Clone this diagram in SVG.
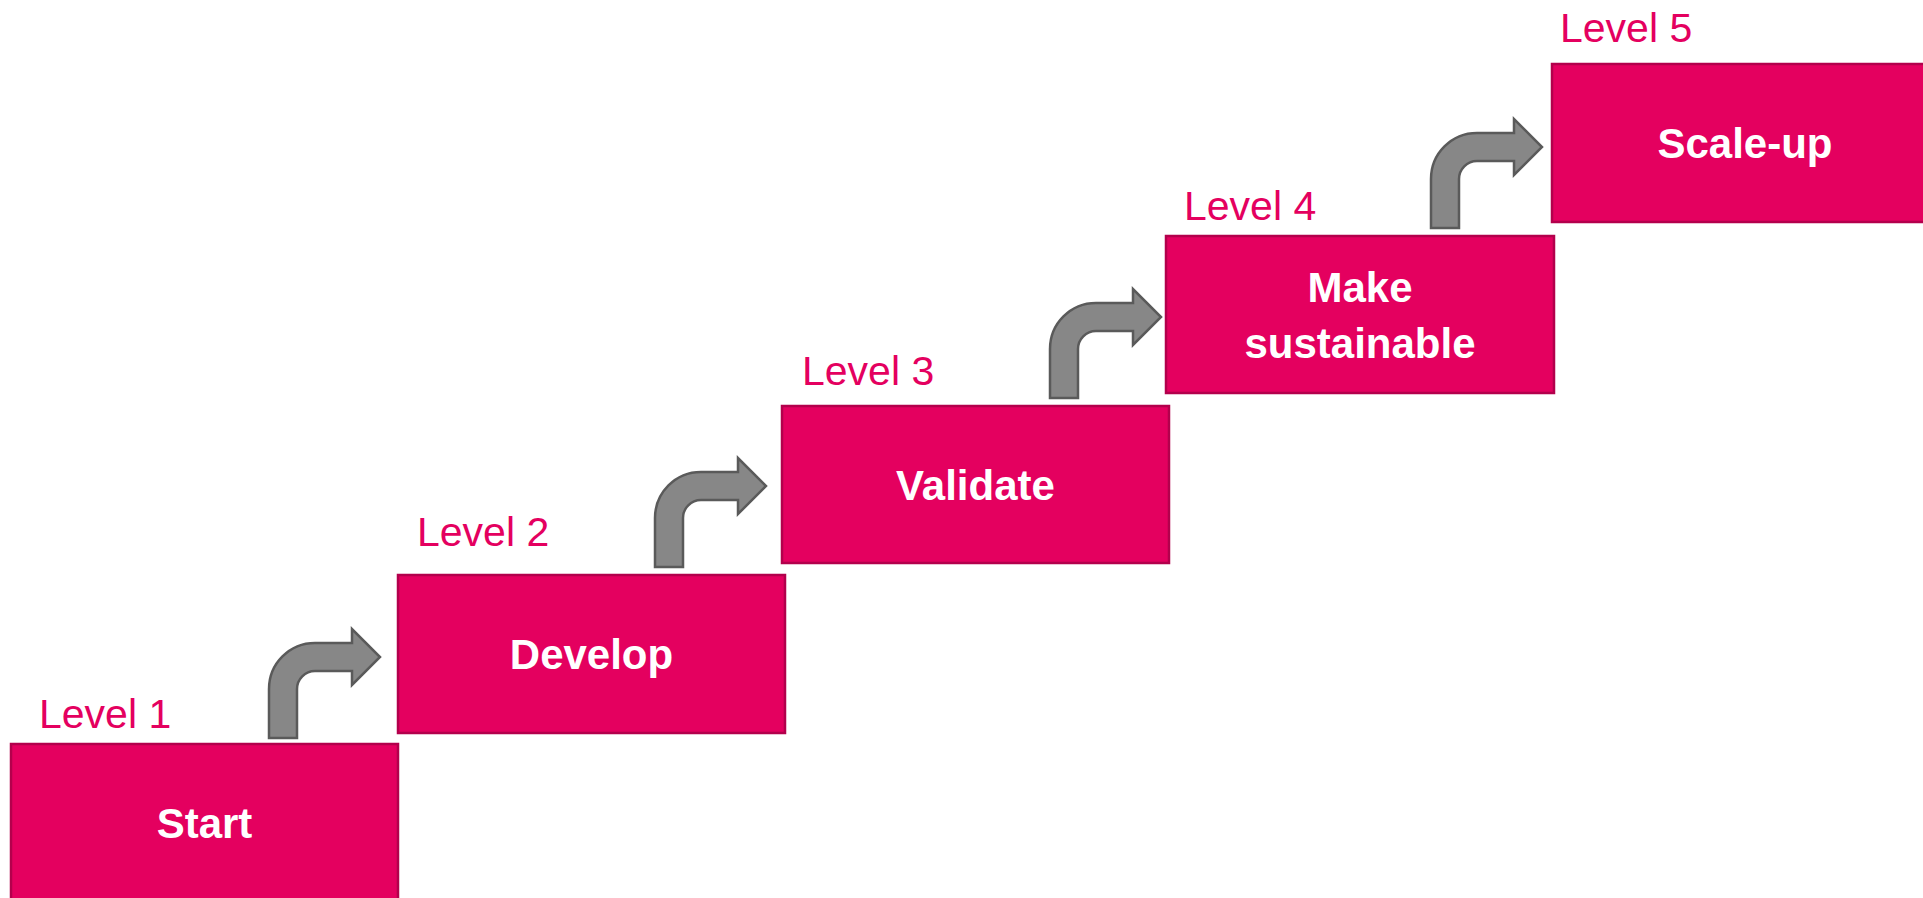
<svg xmlns="http://www.w3.org/2000/svg" xmlns:xlink="http://www.w3.org/1999/xlink" width="1923" height="898" viewBox="0 0 1923 898">
  <style>
    .step { fill: #E4005F; stroke: #B3004C; stroke-width: 2.5; }
    .step-label { font-family: "Liberation Sans", Arial, sans-serif; font-weight: bold; font-size: 42px; fill: #FFFFFF; text-anchor: middle; }
    .level { font-family: "Liberation Sans", Arial, sans-serif; font-size: 41px; fill: #E4005F; }
    .bent { fill: #878787; stroke: #5A5A5A; stroke-width: 2.5; stroke-linejoin: miter; }
  </style>
  <defs>
    <!-- bent-up arrow, origin at the bottom-left corner of the vertical shaft -->
    <path id="bent-arrow" d="M0 0 V-49 A46 46 0 0 1 46 -95 H83 V-109 L111 -81 L83 -53 V-67 H46 A18 18 0 0 0 28 -49 V0 Z"/>
  </defs>
  <rect width="1923" height="898" fill="#FFFFFF"/>

  <g id="connectors">
    <use xlink:href="#bent-arrow" class="bent" transform="translate(269,738)"/>
    <use xlink:href="#bent-arrow" class="bent" transform="translate(655,567)"/>
    <use xlink:href="#bent-arrow" class="bent" transform="translate(1050,398)"/>
    <use xlink:href="#bent-arrow" class="bent" transform="translate(1431,228)"/>
  </g>

  <g id="level-1">
    <text class="level" x="39" y="728">Level 1</text>
    <rect class="step" x="11" y="744" width="387" height="170"/>
    <text class="step-label" x="204.5" y="838">Start</text>
  </g>

  <g id="level-2">
    <text class="level" x="417" y="546">Level 2</text>
    <rect class="step" x="398" y="575" width="387" height="158"/>
    <text class="step-label" x="591.5" y="669">Develop</text>
  </g>

  <g id="level-3">
    <text class="level" x="802" y="385">Level 3</text>
    <rect class="step" x="782" y="406" width="387" height="157"/>
    <text class="step-label" x="975.5" y="500">Validate</text>
  </g>

  <g id="level-4">
    <text class="level" x="1184" y="220">Level 4</text>
    <rect class="step" x="1166" y="236" width="388" height="157"/>
    <text class="step-label" x="1360" y="302">Make</text>
    <text class="step-label" x="1360" y="358">sustainable</text>
  </g>

  <g id="level-5">
    <text class="level" x="1560" y="42">Level 5</text>
    <rect class="step" x="1552" y="64" width="400" height="158"/>
    <text class="step-label" x="1745" y="158">Scale-up</text>
  </g>
</svg>
